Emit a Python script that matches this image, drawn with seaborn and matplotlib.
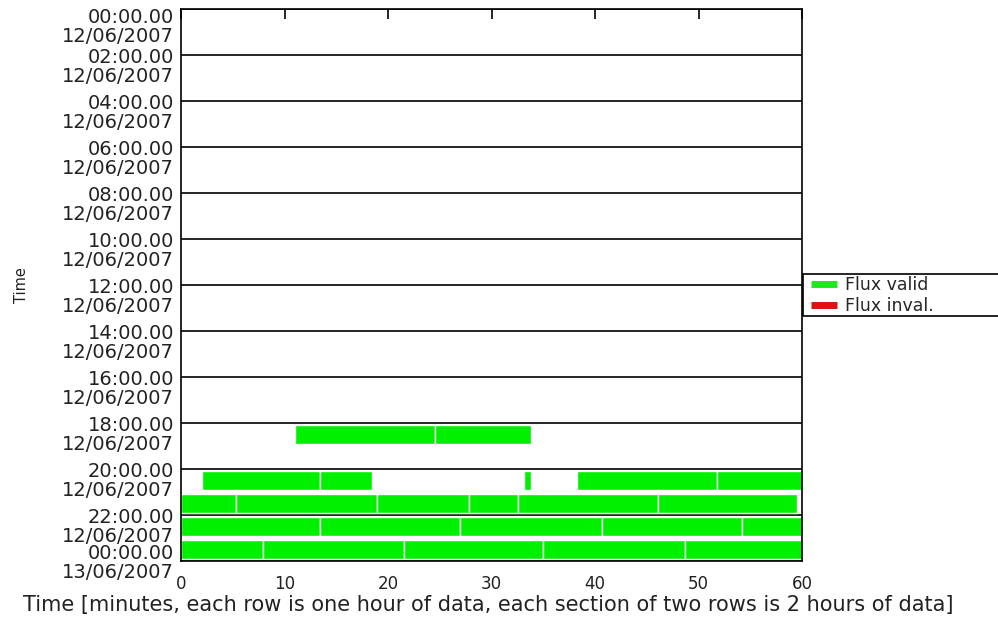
import matplotlib
matplotlib.use("Agg")
import matplotlib.pyplot as plt
import matplotlib.transforms as mtransforms
from matplotlib.patches import Rectangle
from matplotlib.lines import Line2D
import seaborn as sns
import pandas as pd

# ---- data ----
seg_hour = [18, 18,
            20, 20, 20, 20, 20,
            21, 21, 21, 21, 21, 21,
            22, 22, 22, 22, 22,
            23, 23, 23, 23, 23]
seg_start = [11.0, 24.5,
             2.0, 13.4, 33.1, 38.3, 51.8,
             0.0, 5.3, 18.9, 27.8, 32.6, 46.1,
             0.0, 13.4, 27.0, 40.7, 54.2,
             0.0, 7.9, 21.5, 35.0, 48.7]
seg_end = [24.5, 33.8,
           13.4, 18.5, 33.8, 51.8, 60.0,
           5.3, 18.9, 27.8, 32.6, 46.1, 59.5,
           13.4, 27.0, 40.7, 54.2, 60.0,
           7.9, 21.5, 35.0, 48.7, 60.0]
seg_status = ["valid"] * len(seg_hour)

section_hours = [0, 2, 4, 6, 8, 10, 12, 14, 16, 18, 20, 22, 24]
ytick_labels = ["00:00.00\n12/06/2007", "02:00.00\n12/06/2007", "04:00.00\n12/06/2007",
                "06:00.00\n12/06/2007", "08:00.00\n12/06/2007", "10:00.00\n12/06/2007",
                "12:00.00\n12/06/2007", "14:00.00\n12/06/2007", "16:00.00\n12/06/2007",
                "18:00.00\n12/06/2007", "20:00.00\n12/06/2007", "22:00.00\n12/06/2007",
                "00:00.00\n13/06/2007"]
xticks = [0, 10, 20, 30, 40, 50, 60]
legend_labels = ["Flux valid", "Flux inval."]

df = pd.DataFrame({"hour": seg_hour, "start": seg_start, "end": seg_end, "status": seg_status})
df["width"] = df["end"] - df["start"]

sns.set_theme(style="white")
plt.rcParams["font.family"] = ["DejaVu Sans"]

fig = plt.figure(figsize=(9.98, 6.28), dpi=100)
ax = fig.add_axes([181/998, 1 - 561/628, (802 - 181)/998, (561 - 9)/628])

colors = {"valid": "#00f000", "invalid": "#e00000"}
for _, r in df.iterrows():
    ax.barh(r["hour"] + 0.5, r["width"], left=r["start"], height=0.82,
            color=colors[r["status"]], edgecolor="white", linewidth=1.0, zorder=2)

ax.set_xlim(0, 60)
ax.set_ylim(24, 0)

# section separator lines
ax.hlines(section_hours, 0, 60, colors="black", linewidth=1.2, zorder=1)

ax.tick_params(axis="y", length=0, pad=5)
ax.tick_params(axis="x", direction="in", top=True, bottom=False, length=7,
               width=1.2, color="black", pad=10)

# tick labels sit at the section lines, end labels kept inside the axis range
label_pos = [min(max(h + 0.08, 0.35), 23.65) for h in section_hours]
ax.set_yticks(label_pos)
ax.set_yticklabels(ytick_labels, fontsize=14, color="#222222", linespacing=1.03)
offset = mtransforms.ScaledTranslation(0, 6.5/72, fig.dpi_scale_trans)
for lbl in ax.get_yticklabels():
    lbl.set_verticalalignment("top")
    lbl.set_transform(lbl.get_transform() + offset)

ax.set_xticks(xticks)
ax.set_xticklabels([str(v) for v in xticks], fontsize=12, color="#222222")

ax.grid(False)
for s in ax.spines.values():
    s.set_color("black")
    s.set_linewidth(1.2)

ax.set_xlabel("Time [minutes, each row is one hour of data, each section of two rows is 2 hours of data]",
              fontsize=15, color="#222222", labelpad=0)
ax.xaxis.set_label_coords(0.494, -44/552)
ax.xaxis.label.set_verticalalignment("center")
ax.set_ylabel("Time", fontsize=10.5, color="#222222")
ax.yaxis.set_label_coords(-159/621, 0.5)
ax.yaxis.label.set_verticalalignment("center")

# legend box
fig.patches.append(Rectangle((803/998, 1 - 316/628), 0.3, 42/628, transform=fig.transFigure,
                             fill=False, edgecolor="black", linewidth=1.2))
handles = [Line2D([0], [0], color="#22e622", lw=5, solid_capstyle="butt"),
           Line2D([0], [0], color="#dd1111", lw=5, solid_capstyle="butt")]
fig.legend(handles, legend_labels, loc="upper left", bbox_to_anchor=(809/998, 1 - 274/628),
           frameon=False, fontsize=12.5, handlelength=1.5, handletextpad=0.45,
           labelspacing=0.2, borderpad=0.1, borderaxespad=0)

fig.savefig("out.png", dpi=100, facecolor="white")
